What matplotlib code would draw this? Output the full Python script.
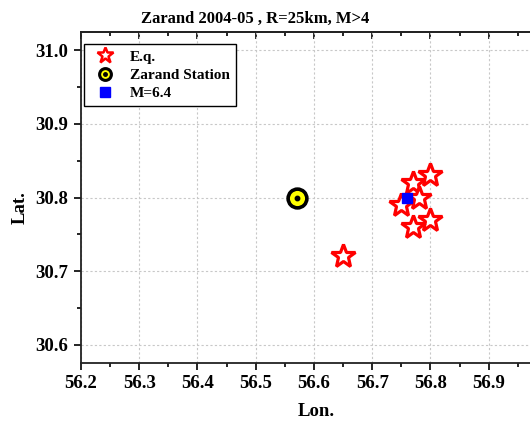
import matplotlib
matplotlib.use("Agg")
import matplotlib.pyplot as plt
from matplotlib.lines import Line2D
from matplotlib.ticker import MultipleLocator

plt.rcParams['font.family'] = ['Liberation Serif', 'DejaVu Serif']
plt.rcParams['font.weight'] = 'bold'

# Earthquake epicentres (lon, lat)
eq_lon = [56.65, 56.75, 56.77, 56.78, 56.80, 56.80, 56.77]
eq_lat = [30.72, 30.79, 30.82, 30.80, 30.83, 30.77, 30.76]

# Zarand station
station_lon = [56.57]
station_lat = [30.80]

# Main shock M=6.4
main_lon = [56.76]
main_lat = [30.80]

title = "Zarand 2004-05 , R=25km, M>4"
x_ticks = [56.2, 56.3, 56.4, 56.5, 56.6, 56.7, 56.8, 56.9]
y_ticks = [30.6, 30.7, 30.8, 30.9, 31.0]

W, H = 530, 425
fig = plt.figure(figsize=(W / 100, H / 100), dpi=100)
ax = fig.add_axes([81 / W, 62 / H, 466 / W, 331 / H])

ax.plot(eq_lon, eq_lat, ls='none', marker='*', ms=18, mfc='white',
        mec='#ff0000', mew=2.3, zorder=3)
ax.plot(station_lon, station_lat, ls='none', marker='o', ms=13.5,
        mfc='#ffff00', mec='black', mew=2.6, zorder=3)
ax.plot(station_lon, station_lat, ls='none', marker='o', ms=3.2,
        mfc='black', mec='black', zorder=4)
ax.plot(main_lon, main_lat, ls='none', marker='s', ms=7, mfc='#0000ff',
        mec='#0000ff', zorder=5)

ax.set_xlim(56.2, 57.0)
ax.set_ylim(30.575, 31.025)
ax.set_xticks(x_ticks)
ax.set_yticks(y_ticks)
ax.xaxis.set_minor_locator(MultipleLocator(0.05))
ax.yaxis.set_minor_locator(MultipleLocator(0.05))
ax.set_xticklabels([f"{v:.1f}" for v in x_ticks])
ax.set_yticklabels([f"{v:.1f}" for v in y_ticks])

ax.grid(True, which='major', color='#c8c8c8', ls=(0, (2, 2)), lw=0.8)
ax.set_axisbelow(True)

for s in ax.spines.values():
    s.set_linewidth(1.3)
    s.set_color('#222222')

ax.tick_params(which='both', direction='out', top=False, right=False,
               labelsize=13.5, width=1.2)
ax.tick_params(which='major', length=5, pad=4)
ax.tick_params(which='minor', length=3)
for lab in ax.get_xticklabels() + ax.get_yticklabels():
    lab.set_fontweight('bold')

# inward ticks along the top edge
top = ax.secondary_xaxis('top')
top.set_xticks(x_ticks)
top.xaxis.set_minor_locator(MultipleLocator(0.05))
top.tick_params(which='both', direction='in', labeltop=False, width=1.2)
top.tick_params(which='major', length=5)
top.tick_params(which='minor', length=3)
top.spines['top'].set_linewidth(1.3)
top.spines['top'].set_color('#222222')

fig.text(255 / W, 1 - 19 / H, title, ha='center', va='center',
         fontsize=12, fontweight='bold')
fig.text(316 / W, 1 - 412 / H, "Lon.", ha='center', va='center',
         fontsize=13.5, fontweight='bold')
fig.text(20 / W, 1 - 208 / H, "Lat.", ha='center', va='center',
         fontsize=13.5, fontweight='bold', rotation=90)

h_eq = Line2D([], [], ls='none', marker='*', ms=12, mfc='white',
              mec='#ff0000', mew=1.8)
h_st_outer = Line2D([], [], ls='none', marker='o', ms=8.5, mfc='#ffff00',
                    mec='black', mew=2.2)
h_st_inner = Line2D([], [], ls='none', marker='o', ms=2.5, mfc='black',
                    mec='black')
h_main = Line2D([], [], ls='none', marker='s', ms=6.5, mfc='#0000ff',
                mec='#0000ff')
leg = ax.legend([h_eq, (h_st_outer, h_st_inner), h_main],
                ["E.q.", "Zarand Station", "M=6.4"],
                loc='upper left', bbox_to_anchor=(3 / 466, 319 / 331),
                borderaxespad=0, frameon=True, fancybox=False,
                edgecolor='black', framealpha=1,
                prop={'size': 11, 'weight': 'bold'},
                handlelength=1.9, handletextpad=0.7, labelspacing=0.3,
                borderpad=0.4)
leg.get_frame().set_linewidth(1.0)

fig.savefig("out.png", dpi=100)
